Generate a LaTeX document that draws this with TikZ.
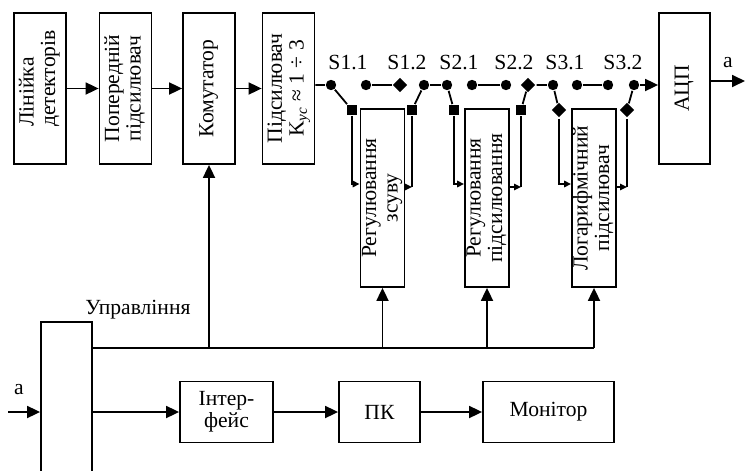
\documentclass[tikz,border=0pt]{standalone}
\usepackage{fontspec}
\setmainfont{Liberation Serif}
\usetikzlibrary{arrows.meta,shapes.geometric}
\newcommand{\vlab}[2][@{}c@{}]{\rotatebox{90}{\begin{tabular}{#1}#2\end{tabular}}}

\begin{document}
\begin{tikzpicture}[x=0.5pt,y=-0.5pt,line width=0.9pt,font=\fontsize{10.8}{10.8}\selectfont,
  blk/.style={draw,inner sep=0pt,align=center},
  tall/.style={blk,minimum width=26pt,minimum height=75.5pt},
  reg/.style={blk,minimum width=22pt,minimum height=89pt},
  flat/.style={blk,minimum height=30.5pt},
  jdot/.style={circle,fill,inner sep=0pt,minimum size=5.2pt},
  sq/.style={rectangle,fill,inner sep=0pt,minimum size=5pt},
  dia/.style={diamond,fill,inner sep=0pt,minimum size=7.6pt},
  barr/.style={-{Triangle[length=6.5pt,width=6pt]}},
  sarr/.style={-{Triangle[length=3.5pt,width=3.2pt]}}]
\useasboundingbox (0,0) rectangle (751,471);
\clip (0,0) rectangle (751,471);

\begin{scope}
\node[tall] (det) at (40,88.5) {\vlab[@{\hspace{10pt}}l@{}]{Лінійка\\детекторів}};
\node[tall] (pre) at (125.5,88.5) {\vlab{Попередній\\підсилювач}};
\node[tall] (com) at (209,88.5) {\vlab{Комутатор}};
\node[tall] (amp) at (288.5,88.5) {\vlab{Підсилювач\\K\textsubscript{\itshape ус} ≈ 1 ÷ 3}};
\node[tall,minimum width=25.5pt] (adc) at (684.5,88.5) {\vlab{АЦП}};

\draw[barr] (det) -- (pre);
\draw[barr] (pre) -- (com);
\draw[barr] (com) -- (amp);
\end{scope}

% switches
\node[jdot] (p0) at (331,85) {};
\node[sq] (q1) at (352,110) {};
\node[jdot] (p1) at (366,85) {};
\node[dia] (d1) at (400,85) {};
\node[jdot] (p2) at (424,85) {};
\node[jdot] (p3) at (447,85) {};
\node[sq] (q2) at (412,110) {};
\node[sq] (q3) at (454,110) {};
\node[jdot] (p4) at (472,85) {};
\node[jdot] (p5) at (506,85) {};
\node[dia] (d2) at (528,85) {};
\node[jdot] (p6) at (553,85) {};
\node[sq] (q4) at (521,110) {};
\node[dia] (d3) at (559,110) {};
\node[jdot] (p7) at (577,85) {};
\node[jdot] (p8) at (608,85) {};
\node[jdot] (p9) at (634,85) {};
\node[dia] (d4) at (627,110) {};

\node[anchor=base] (s11) at (348,69) {S1.1};
\node[anchor=base] (s12) at (407,69) {S1.2};
\node[anchor=base] (s21) at (459,69) {S2.1};
\node[anchor=base] (s22) at (514,69) {S2.2};
\node[anchor=base] (s31) at (565,69) {S3.1};
\node[anchor=base] (s32) at (623,69) {S3.2};

\draw (amp.east |- p0) -- (p0) -- (q1);
\draw (p1) -- (d1);
\draw (q2) -- (p2) -- (p3) -- (q3);
\draw (p4) -- (p5);
\draw (q4) -- (d2) -- (p6) -- (d3);
\draw (p7) -- (p8);
\draw (d4) -- (p9);
\draw[barr] (p9) -- (adc.west |- p9);

\coordinate (out) at (745,81);
\draw[barr] (adc.east |- out) -- (out);
\node (lb) at (728,63) {а};

% correction blocks
\node[reg] (shift) at (382.5,198) {\vlab{Регулювання\\зсуву}};
\node[reg] (gain) at (487,198) {\vlab{Регулювання\\підсилювання}};
\node[reg] (log) at (594,198) {\vlab{Логарифмічний\\підсилювач}};

\coordinate (o1) at (412,187);
\coordinate (o2) at (521,187);
\coordinate (o3) at (627,187);
\draw[sarr] (q1) |- ([yshift=7pt]shift.west);
\draw[sarr] (shift.east |- o1) -- (o1);
\draw (o1) -- (q2);
\draw[sarr] (q3) |- ([yshift=7pt]gain.west);
\draw[sarr] (gain.east |- o2) -- (o2);
\draw (o2) -- (q4);
\draw[sarr] (d3) |- ([yshift=7pt]log.west);
\draw[sarr] (log.east |- o3) -- (o3);
\draw (o3) -- (d4);

% control
\node[blk,minimum width=25.5pt,minimum height=90pt] (ctl) at (66.5,412) {};
\node (upr) at (138,310) {Управління};
\coordinate (bus) at (594,348);
\draw (ctl.east |- bus) -- (bus);
\draw[barr] (com.south |- bus) -- (com.south);
\draw[barr] (shift.south |- bus) -- (shift.south);
\draw[barr] (gain.south |- bus) -- (gain.south);
\draw[barr] (bus) -- (log.south);

\coordinate (in) at (8,412);
\draw[barr] (in) -- (ctl.west);
\node (la) at (19,390) {а};

\node[flat,minimum width=46.5pt] (ifc) at (226.5,412) {Інтер-\\фейс};
\node[flat,minimum width=40.5pt] (pc) at (379.5,412) {ПК};
\node[flat,minimum width=65.5pt] (mon) at (548.5,412) {Монітор};

\draw[barr] (ctl.east) -- (ifc);
\draw[barr] (ifc) -- (pc);
\draw[barr] (pc) -- (mon);

\end{tikzpicture}
\end{document}
